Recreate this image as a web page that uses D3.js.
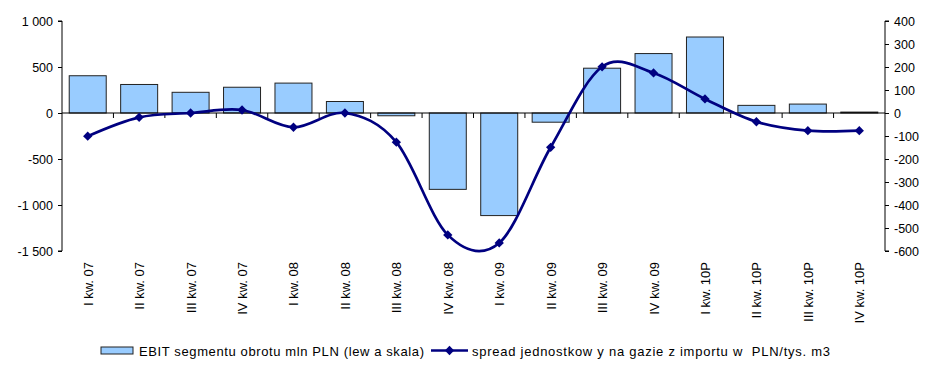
<!DOCTYPE html>
<html>
<head>
<meta charset="utf-8">
<script src="https://cdn.jsdelivr.net/npm/d3@7"></script>
<style>
  body { margin: 0; background: #fff; }
  svg text { font-family: "Liberation Sans", Arial, sans-serif; fill: #000; white-space: pre; }
</style>
</head>
<body>
<svg id="chart" width="926" height="365"></svg>
<script>
// Quarters
const categories = ["I kw. 07", "II kw. 07", "III kw. 07", "IV kw. 07",
  "I kw. 08", "II kw. 08", "III kw. 08", "IV kw. 08",
  "I kw. 09", "II kw. 09", "III kw. 09", "IV kw. 09",
  "I kw. 10P", "II kw. 10P", "III kw. 10P", "IV kw. 10P"];
// EBIT of trading segment, mln PLN (left axis)
const ebit = [405, 310, 225, 280, 325, 125, -30, -830, -1115, -100, 487, 646, 826, 83, 97, 10];
// Unit spread on imported gas, PLN per thousand m3 (right axis)
const spread = [-101, -19, 0, 13, -62, 0, -127, -530, -565, -149, 201, 174, 61, -38, -77, -77];
// Axis ticks
const leftTicks = [1000, 500, 0, -500, -1000, -1500];
const rightTicks = [400, 300, 200, 100, 0, -100, -200, -300, -400, -500, -600];
const legendLabels = ["EBIT segmentu obrotu mln PLN (lew a skala)",
  "spread jednostkow y na gazie z importu w  PLN/tys. m3"];

const svg = d3.select("#chart");
const plotLeft = 62, plotRight = 885, plotTop = 21, plotBottom = 251;
const barWidth = 37;

const xb = d3.scaleBand().domain(categories).range([plotLeft, plotRight]);
const yL = d3.scaleLinear().domain([-1500, 1000]).range([plotBottom, plotTop]);
const yR = d3.scaleLinear().domain([-600, 400]).range([plotBottom, plotTop]);

const fmt = v => d3.format(",")(v).replace(/,/g, " ").replace("−", "-");

// Bars
svg.append("g").selectAll("rect").data(ebit).join("rect")
  .attr("x", (d, i) => xb(categories[i]) + (xb.bandwidth() - barWidth) / 2)
  .attr("width", barWidth)
  .attr("y", d => yL(Math.max(0, d)))
  .attr("height", d => Math.abs(yL(d) - yL(0)))
  .attr("fill", "#99ccff")
  .attr("stroke", "#222")
  .attr("stroke-width", 1);

// Category axis along zero
const xAxis = svg.append("g").attr("transform", `translate(0,${yL(0)})`);
xAxis.append("line").attr("x1", plotLeft).attr("x2", plotRight).attr("stroke", "#000").attr("stroke-width", 1);
xAxis.selectAll("line.tick").data(categories.slice(1)).join("line")
  .attr("class", "tick")
  .attr("x1", d => xb(d)).attr("x2", d => xb(d))
  .attr("y1", 0).attr("y2", 5).attr("stroke", "#000");

// Category labels, rotated
svg.append("g").selectAll("text").data(categories).join("text")
  .attr("transform", d => `translate(${xb(d) + xb.bandwidth() / 2 + 5},262) rotate(-90)`)
  .attr("text-anchor", "end")
  .attr("font-size", "13px")
  .text(d => d);

// Left axis
const gl = svg.append("g").attr("transform", `translate(${plotLeft},0)`)
  .call(d3.axisLeft(yL).tickValues(leftTicks).tickFormat(fmt).tickSize(4).tickPadding(5));
gl.select(".domain").attr("d", `M-4,${plotTop}H0V${plotBottom}H-4`);
gl.selectAll("text").attr("font-size", "12.5px").attr("font-family", "Liberation Sans, Arial, sans-serif");

// Right axis
const gr = svg.append("g").attr("transform", `translate(${plotRight},0)`)
  .call(d3.axisRight(yR).tickValues(rightTicks).tickFormat(fmt).tickSize(4).tickPadding(5));
gr.select(".domain").attr("d", `M4,${plotTop}H0V${plotBottom}H4`);
gr.selectAll("text").attr("font-size", "12.5px").attr("font-family", "Liberation Sans, Arial, sans-serif");

// Smoothed spread line
const cx = (d, i) => xb(categories[i]) + xb.bandwidth() / 2;
const line = d3.line().x(cx).y(d => yR(d)).curve(d3.curveCardinal.tension(0));
svg.append("path").datum(spread).attr("d", line)
  .attr("fill", "none").attr("stroke", "#000080").attr("stroke-width", 2.7);
const diamond = d3.symbol().type(d3.symbolDiamond2).size(55);
svg.append("g").selectAll("path").data(spread).join("path")
  .attr("transform", (d, i) => `translate(${cx(d, i)},${yR(d)})`)
  .attr("d", diamond).attr("fill", "#000080");

// Legend
const lg = svg.append("g");
lg.append("rect").attr("x", 101).attr("y", 347).attr("width", 32).attr("height", 7)
  .attr("fill", "#99ccff").attr("stroke", "#222");
lg.append("text").attr("x", 139).attr("y", 355.5).attr("font-size", "13px")
  .attr("textLength", 285).attr("lengthAdjust", "spacing").text(legendLabels[0]);
lg.append("line").attr("x1", 431).attr("x2", 468).attr("y1", 350.5).attr("y2", 350.5)
  .attr("stroke", "#000080").attr("stroke-width", 2.7);
lg.append("path").attr("transform", "translate(449.5,350.5)").attr("d", diamond).attr("fill", "#000080");
lg.append("text").attr("x", 472).attr("y", 355.5).attr("font-size", "13px")
  .attr("textLength", 358).attr("lengthAdjust", "spacing").text(legendLabels[1]);
</script>
</body>
</html>
